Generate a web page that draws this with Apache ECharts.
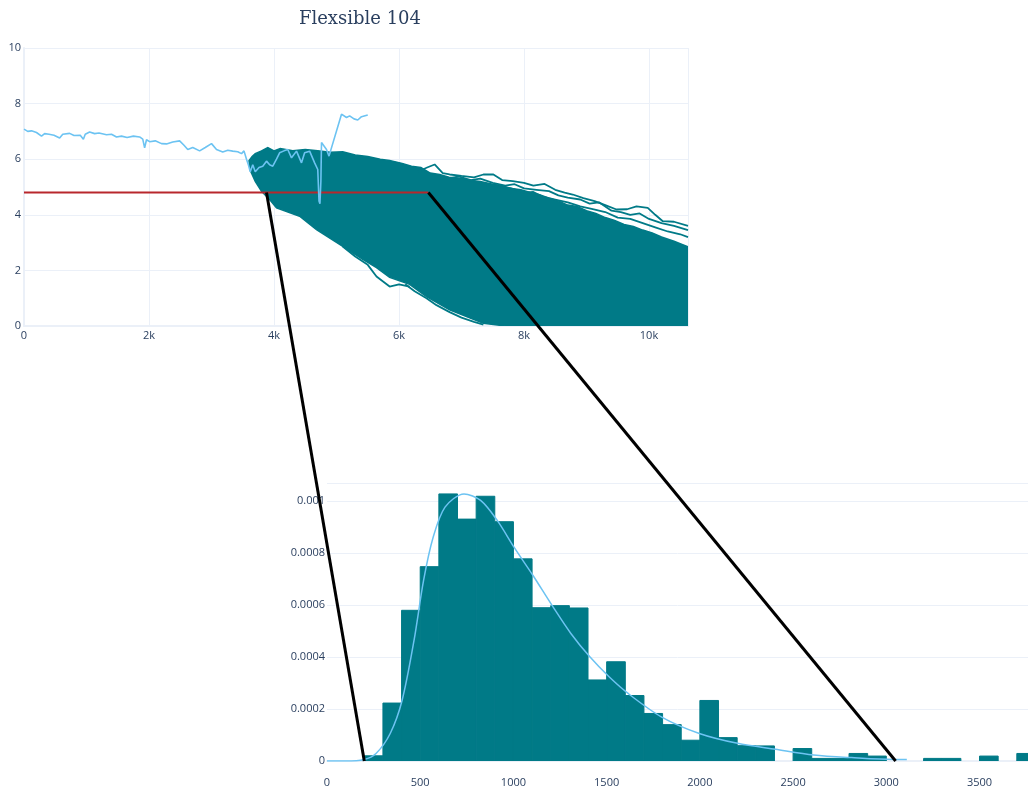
<!DOCTYPE html>
<html>
<head>
<meta charset="utf-8">
<script src="https://cdn.jsdelivr.net/npm/echarts@6/dist/echarts.min.js"></script>
<style>
  html, body { margin: 0; padding: 0; background: #fff; }
  #chart { width: 1028px; height: 791px; }
</style>
</head>
<body>
<div id="chart"></div>
<script>
// observed path (light blue)
const pathX = [0, 60, 120, 200, 280, 330, 400, 480, 570, 620, 730, 800, 900, 950, 980, 1050, 1130, 1200, 1320, 1400,
  1480, 1560, 1650, 1750, 1850, 1900, 1930, 1960, 2010, 2100, 2200, 2280, 2380, 2490, 2560, 2620, 2700, 2810, 2900, 3000,
  3080, 3180, 3260, 3340, 3420, 3480, 3520, 3560, 3590, 3620, 3660, 3700, 3760, 3820, 3880, 3930, 3980, 4040, 4090, 4160,
  4220, 4280, 4360, 4440, 4490, 4570, 4650, 4700, 4720, 4735, 4750, 4760, 4840, 4880, 5080, 5160, 5210, 5280, 5340, 5400, 5500];
const pathY = [7.08, 7.0, 7.02, 6.96, 6.83, 6.92, 6.9, 6.86, 6.76, 6.9, 6.93, 6.85, 6.86, 6.72, 6.9, 6.98, 6.92, 6.94, 6.88, 6.9,
  6.8, 6.83, 6.78, 6.83, 6.8, 6.72, 6.41, 6.7, 6.63, 6.66, 6.56, 6.55, 6.62, 6.66, 6.5, 6.35, 6.42, 6.3, 6.42, 6.56,
  6.35, 6.26, 6.32, 6.29, 6.27, 6.2, 6.3, 6.0, 5.8, 5.55, 5.8, 5.55, 5.7, 5.75, 5.93, 5.8, 5.75, 6.0, 6.23, 6.3,
  6.35, 6.05, 6.29, 5.87, 6.23, 6.29, 5.87, 5.63, 4.5, 4.4, 5.2, 6.6, 6.35, 6.11, 7.62, 7.5, 7.56, 7.45, 7.41, 7.53, 7.59];

// simulated paths: dense band outline (upper edge left to right, lower edge back)
const bandX = [3600, 3650, 3700, 3800, 3900, 4000, 4100, 4300, 4500, 4700, 4900, 5100, 5300, 5500, 5700, 5850, 6050, 6200,
  6350, 6500, 6650, 6800, 6950, 7100, 7300, 7500, 7650, 7800, 7950, 8100, 8250, 8400, 8550, 8700, 8850, 9000, 9150, 9300,
  9450, 9600, 9750, 9900, 10050, 10200, 10400, 10624,
  10624, 7700, 7350, 6810, 6440, 6170, 5850, 5640, 5420, 5100, 4680, 4410, 4040, 3930, 3800, 3700, 3620];
const bandY = [5.95, 6.1, 6.2, 6.3, 6.42, 6.3, 6.38, 6.3, 6.35, 6.3, 6.25, 6.27, 6.15, 6.1, 6.0, 5.95, 5.85, 5.75,
  5.7, 5.5, 5.45, 5.35, 5.32, 5.25, 5.2, 5.1, 5.05, 4.95, 4.9, 4.8, 4.72, 4.6, 4.5, 4.35, 4.3, 4.15, 4.05, 3.9,
  3.8, 3.65, 3.58, 3.45, 3.35, 3.2, 3.05, 2.85,
  0, 0, 0.1, 0.58, 1.06, 1.5, 1.75, 2.1, 2.4, 2.86, 3.47, 3.95, 4.25, 4.55, 4.85, 5.2, 5.6];

// stray paths outside the dense band
const strand1X = [6300, 6450, 6570, 6700, 6810, 7000, 7200, 7350, 7510, 7650, 7820, 8000, 8150, 8330, 8500, 8650, 8780,
  8950, 9130, 9300, 9480, 9650, 9800, 9980, 10100, 10220, 10400, 10624];
const strand1Y = [5.55, 5.7, 5.81, 5.5, 5.45, 5.4, 5.35, 5.45, 5.45, 5.25, 5.21, 5.15, 5.05, 5.11, 4.9, 4.8, 4.73,
  4.6, 4.49, 4.35, 4.19, 4.2, 4.3, 4.25, 4.0, 3.77, 3.75, 3.6];
const strand2X = [6600, 6800, 6950, 7150, 7300, 7500, 7700, 7850, 8000, 8200, 8400, 8550, 8700, 8900, 9050, 9200, 9400,
  9550, 9700, 9850, 10000, 10200, 10400, 10624];
const strand2Y = [5.4, 5.3, 5.38, 5.25, 5.3, 5.15, 5.05, 5.1, 4.95, 4.9, 4.85, 4.7, 4.62, 4.55, 4.4, 4.45, 4.15,
  4.1, 4.0, 4.05, 3.85, 3.7, 3.6, 3.45];
const strand3X = [7000, 7200, 7400, 7600, 7800, 8000, 8150, 8300, 8500, 8700, 8900, 9100, 9300, 9500, 9700, 9900, 10100,
  10300, 10500, 10624];
const strand3Y = [5.3, 5.2, 5.1, 5.0, 4.95, 4.8, 4.82, 4.65, 4.55, 4.45, 4.3, 4.2, 4.1, 3.9, 3.85, 3.7, 3.55, 3.4, 3.3, 3.2];
const strand4X = [5100, 5300, 5500, 5640, 5850, 6000, 6170];
const strand4Y = [2.86, 2.5, 2.2, 1.78, 1.42, 1.5, 1.42];
const strand5X = [6100, 6250, 6440, 6600, 6810, 7000, 7200, 7350];
const strand5Y = [1.5, 1.25, 1.0, 0.75, 0.5, 0.3, 0.15, 0.05];

const threshold = 4.8;
const thresholdEnd = 6470;
const crossFirst = 3880;

// histogram of crossing times (bin width 100)
const binWidth = 100;
const binStart = [200, 300, 400, 500, 600, 700, 800, 900, 1000, 1100, 1200, 1300, 1400, 1500, 1600, 1700, 1800, 1900,
  2000, 2100, 2200, 2300, 2400, 2500, 2600, 2700, 2800, 2900, 3000, 3100, 3200, 3300, 3400, 3500, 3600, 3700];
const density = [0.00002, 0.000223, 0.00058, 0.000748, 0.001028, 0.000931, 0.001019, 0.000921, 0.000778, 0.00059,
  0.000598, 0.000589, 0.000312, 0.000382, 0.000252, 0.000183, 0.00014, 0.00008, 0.000233, 0.00009, 0.000059,
  0.000058, 0, 0.000048, 0.00001, 0.00001, 0.000029, 0.000019, 0, 0, 0.00001, 0.00001, 0, 0.000019, 0, 0.000029];

// fitted density curve
const kdeX = [0, 100, 199, 263, 339, 403, 467, 518, 569, 633, 735, 824, 913, 1003, 1105, 1207, 1309, 1411, 1513, 1615,
  1793, 1997, 2202, 2406, 2610, 2814, 3043, 3110];
const kdeY = [0, 0, 0.000006, 0.000029, 0.000106, 0.000234, 0.000465, 0.000695, 0.00086, 0.000977, 0.001028, 0.001003,
  0.000926, 0.000823, 0.000714, 0.000599, 0.00049, 0.0004, 0.000324, 0.00026, 0.00017, 0.000106, 0.000068, 0.000045,
  0.000023, 0.000013, 0.000006, 0.000006];

const teal = '#007a87';
const skyBlue = '#6cc3f2';
const gridColor = '#ebf0f8';
const labelColor = '#2a3f5f';

const pairs = (xs, ys) => xs.map((x, i) => [x, ys[i]]);
const strand = (xs, ys) => ({
  type: 'line', xAxisIndex: 0, yAxisIndex: 0, data: pairs(xs, ys), showSymbol: false, silent: true,
  lineStyle: {color: teal, width: 1.8}, z: 3
});

const chart = echarts.init(document.getElementById('chart'));

chart.setOption({
  animation: false,
  title: {
    text: 'Flexsible 104', left: 355, top: 5, textAlign: 'center',
    textStyle: {fontFamily: 'DejaVu Serif', fontSize: 18, fontWeight: 'normal', color: labelColor}
  },
  grid: [
    {left: 24, top: 48, width: 664, height: 278},
    {left: 327, top: 483, width: 702, height: 278}
  ],
  xAxis: [
    {
      type: 'value', gridIndex: 0, min: 0, max: 10624, interval: 2000,
      axisLine: {show: true, lineStyle: {color: gridColor, width: 2}},
      axisTick: {show: false},
      splitLine: {lineStyle: {color: gridColor}},
      axisLabel: {
        color: labelColor, fontSize: 11, margin: 4, showMaxLabel: false, fontFamily: 'Open Sans',
        formatter: v => v === 0 ? '0' : (v / 1000) + 'k'
      }
    },
    {
      type: 'value', gridIndex: 1, min: 0, max: 3760, interval: 500,
      axisLine: {show: true, lineStyle: {color: gridColor, width: 2}},
      axisTick: {show: false},
      splitLine: {show: false},
      axisLabel: {
        color: labelColor, fontSize: 11, margin: 16, showMaxLabel: false, fontFamily: 'Open Sans',
        formatter: v => String(v)
      }
    }
  ],
  yAxis: [
    {
      type: 'value', gridIndex: 0, min: 0, max: 10, interval: 2,
      axisLine: {show: true, lineStyle: {color: gridColor, width: 2}},
      axisTick: {show: false},
      splitLine: {lineStyle: {color: gridColor}},
      axisLabel: {color: labelColor, fontSize: 11, margin: 3, fontFamily: 'Open Sans'}
    },
    {
      type: 'value', gridIndex: 1, min: 0, max: 0.00107, interval: 0.0002,
      axisLine: {show: false},
      axisTick: {show: false},
      splitLine: {lineStyle: {color: gridColor}},
      axisLabel: {
        color: labelColor, fontSize: 11, margin: 2, showMaxLabel: false, fontFamily: 'Open Sans',
        formatter: v => v === 0 ? '0' : String(+v.toPrecision(3))
      }
    }
  ],
  series: [
    {
      type: 'custom', xAxisIndex: 0, yAxisIndex: 0, clip: true, silent: true, z: 2,
      data: [[bandX[0], bandY[0]]],
      renderItem: (params, api) => ({
        type: 'polygon',
        shape: {points: bandX.map((x, i) => api.coord([x, bandY[i]]))},
        style: {fill: teal, stroke: teal, lineWidth: 1.5}
      })
    },
    strand(strand1X, strand1Y),
    strand(strand2X, strand2Y),
    strand(strand3X, strand3Y),
    strand(strand4X, strand4Y),
    strand(strand5X, strand5Y),
    {
      type: 'line', xAxisIndex: 0, yAxisIndex: 0, data: [[0, threshold], [thresholdEnd, threshold]],
      showSymbol: false, silent: true, lineStyle: {color: '#b8272c', width: 2}, z: 4
    },
    {
      type: 'line', xAxisIndex: 0, yAxisIndex: 0, data: pairs(pathX, pathY),
      showSymbol: false, silent: true, lineStyle: {color: skyBlue, width: 1.6}, z: 5
    },
    {
      type: 'custom', xAxisIndex: 1, yAxisIndex: 1, clip: true, silent: true, z: 2,
      data: pairs(binStart, density),
      renderItem: (params, api) => {
        const h = api.value(1);
        if (!h) return null;
        const p0 = api.coord([api.value(0), h]);
        const p1 = api.coord([api.value(0) + binWidth, 0]);
        return {
          type: 'rect',
          shape: {x: p0[0], y: p0[1], width: p1[0] - p0[0], height: p1[1] - p0[1]},
          style: {fill: teal, stroke: teal, lineWidth: 1}
        };
      }
    },
    {
      type: 'line', xAxisIndex: 1, yAxisIndex: 1, data: pairs(kdeX, kdeY), smooth: 0.3,
      showSymbol: false, silent: true, lineStyle: {color: skyBlue, width: 1.5}, z: 5
    }
  ]
});

// connector lines from threshold crossings to the histogram range
const a0 = chart.convertToPixel({gridIndex: 0}, [crossFirst, threshold]);
const a1 = chart.convertToPixel({gridIndex: 1}, [200, 0]);
const b0 = chart.convertToPixel({gridIndex: 0}, [thresholdEnd, threshold]);
const b1 = chart.convertToPixel({gridIndex: 1}, [3050, 0]);
chart.setOption({
  graphic: [
    {type: 'line', z: 100, shape: {x1: a0[0], y1: a0[1], x2: a1[0], y2: a1[1]}, style: {stroke: '#000', lineWidth: 3}},
    {type: 'line', z: 100, shape: {x1: b0[0], y1: b0[1], x2: b1[0], y2: b1[1]}, style: {stroke: '#000', lineWidth: 3}}
  ]
});
</script>
</body>
</html>
